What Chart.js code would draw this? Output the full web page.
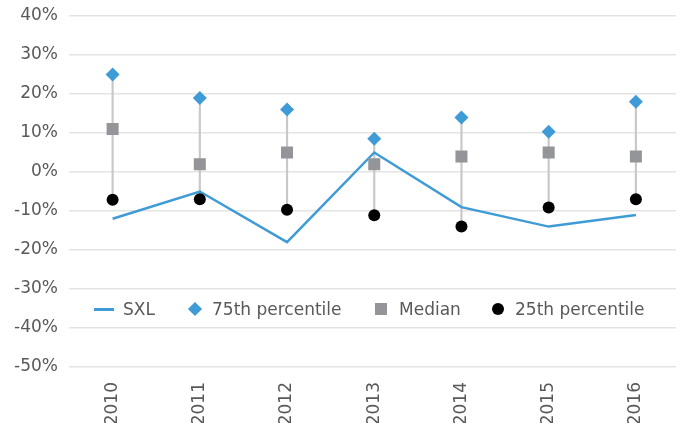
<!DOCTYPE html>
<html>
<head>
<meta charset="utf-8">
<script src="https://cdn.jsdelivr.net/npm/chart.js@4/dist/chart.umd.min.js"></script>
<style>
  html, body { margin: 0; padding: 0; background: #fff; overflow: hidden; width: 676px; height: 423px; }
  #wrap { position: relative; width: 688px; height: 423px; }
  #legend { position: absolute; left: 0; top: 299px; width: 676px; height: 22px;
    font-family: "DejaVu Sans", sans-serif; font-size: 17px; color: #595959; white-space: nowrap; }
  .sym, .lbl { position: absolute; display: block; }
  .lbl { top: 0; line-height: 20px; }
</style>
</head>
<body>
<div id="wrap">
  <canvas id="c"></canvas>
  <div id="legend"></div>
</div>
<script>
const categories = ["2010", "2011", "2012", "2013", "2014", "2015", "2016"];
const sxl = [-12, -5, -18, 5, -9, -14, -11];
const p75 = [25, 19, 16, 8.5, 14, 10.3, 18];
const median = [11, 2, 5, 2, 4, 5, 4];
const p25 = [-7.1, -7, -9.7, -11.1, -14, -9.1, -7];
const yTicks = { min: -50, max: 40, step: 10 };

const blue = "#3f9bd6";
const gray = "#939598";
const textColor = "#595959";
const font = { family: "DejaVu Sans", size: 17 };

const ranges = categories.map((_, i) => [p25[i], p75[i]]);

new Chart(document.getElementById("c"), {
  type: "line",
  data: {
    labels: categories,
    datasets: [
      { type: "bar", label: "range", data: ranges, backgroundColor: "#c8c8c8", barThickness: 1.5, order: 10 },
      { label: "SXL", data: sxl, borderColor: blue, borderWidth: 2.5, pointRadius: 0, tension: 0, fill: false, order: 5 },
      { label: "75th percentile", data: p75, showLine: false, pointStyle: "rectRot", pointRadius: 7, pointBackgroundColor: blue, pointBorderWidth: 0, order: 1 },
      { label: "Median", data: median, showLine: false, pointStyle: "rect", pointRadius: 8.5, pointBackgroundColor: gray, pointBorderWidth: 0, order: 1 },
      { label: "25th percentile", data: p25, showLine: false, pointStyle: "circle", pointRadius: 6, pointBackgroundColor: "#000", pointBorderWidth: 0, order: 1 }
    ]
  },
  options: {
    responsive: true,
    maintainAspectRatio: false,
    animation: false,
    layout: { padding: { top: 16, left: 0, right: 0, bottom: 0 } },
    plugins: { legend: { display: false }, tooltip: { enabled: false } },
    scales: {
      x: {
        offset: true,
        grid: { display: false, drawTicks: false },
        border: { display: false },
        ticks: { font: font, color: textColor, maxRotation: 90, minRotation: 90, padding: 15 },
        afterFit: (s) => { s.height = 56; }
      },
      y: {
        min: yTicks.min, max: yTicks.max,
        grid: { color: "#e4e4e4", lineWidth: 1.5, drawTicks: false },
        border: { display: false },
        ticks: { stepSize: yTicks.step, font: font, color: textColor, padding: 11, callback: (v) => v + "%" },
        afterFit: (s) => { s.width = 69; s.paddingTop = 0; s.paddingBottom = 0; }
      }
    }
  }
});

// HTML legend
const leg = document.getElementById("legend");
const names = ["SXL", "75th percentile", "Median", "25th percentile"];
const textLeft = [123, 212, 399, 515];
const symbols = [
  '<span class="sym" style="left:94px;top:9px;width:20px;height:2.5px;background:' + blue + '"></span>',
  '<span class="sym" style="left:190px;top:5px;width:10px;height:10px;background:' + blue + ';transform:rotate(45deg)"></span>',
  '<span class="sym" style="left:375px;top:4px;width:12px;height:12px;background:' + gray + '"></span>',
  '<span class="sym" style="left:492px;top:4px;width:12px;height:12px;border-radius:50%;background:#000"></span>'
];
names.forEach((n, i) => {
  leg.insertAdjacentHTML("beforeend", symbols[i] + '<span class="lbl" style="left:' + textLeft[i] + 'px">' + n + '</span>');
});
</script>
</body>
</html>
